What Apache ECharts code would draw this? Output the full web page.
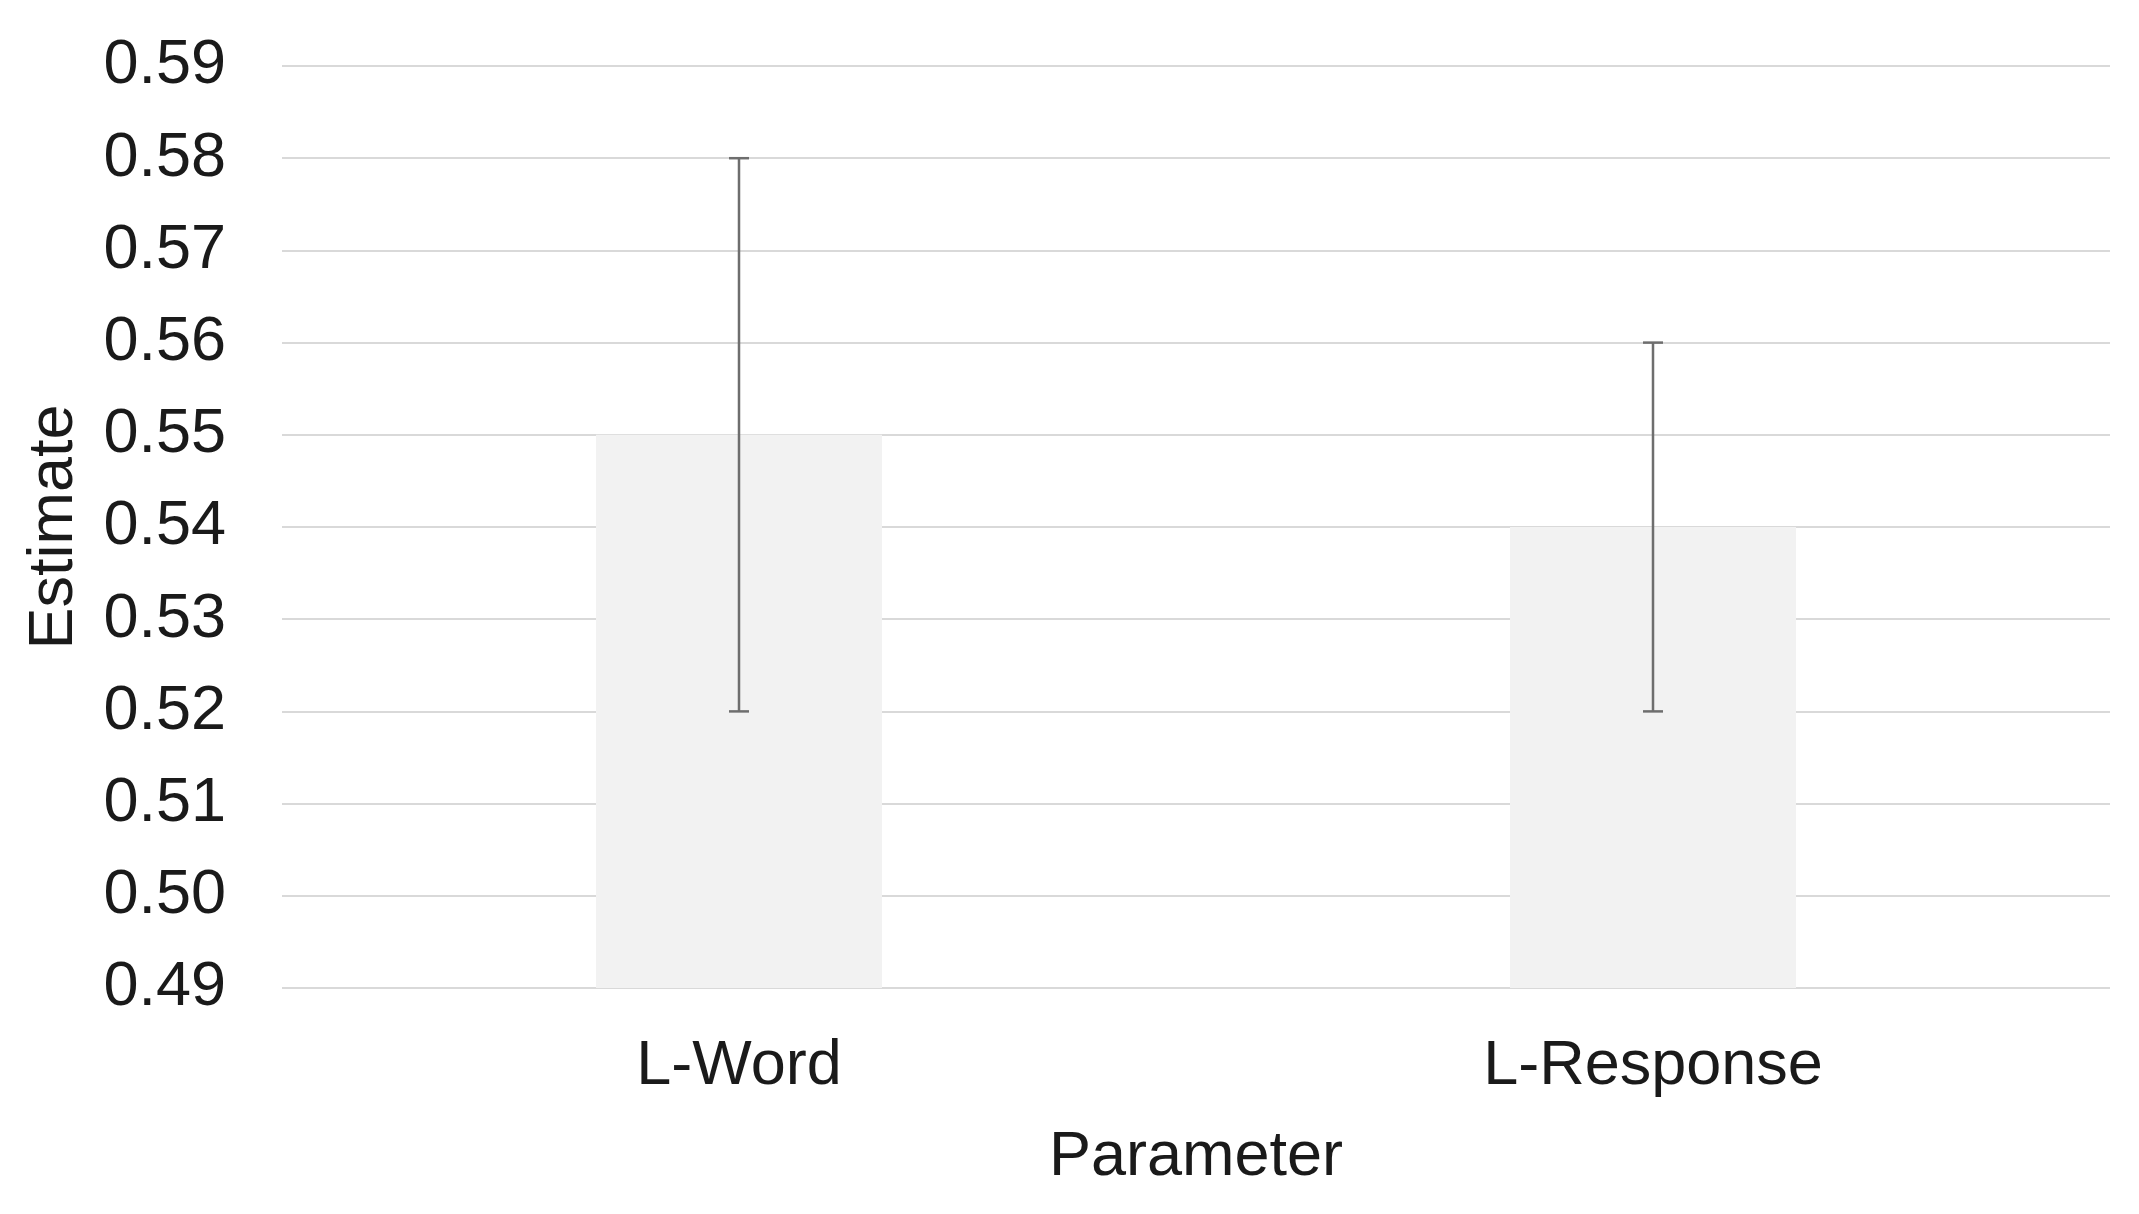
<!DOCTYPE html>
<html><head><meta charset="utf-8">
<script src="https://cdn.jsdelivr.net/npm/echarts@6/dist/echarts.min.js"></script>
<style>html,body{margin:0;padding:0;background:#fff}#c{width:2139px;height:1214px}</style>
</head><body><div id="c"></div>
<script>
const categories = ['L-Word', 'L-Response'];
const estimates = [0.55, 0.54];
const lowerCI = [0.52, 0.52];
const upperCI = [0.58, 0.56];
const yMin = 0.49, yMax = 0.59, yStep = 0.01;

const chart = echarts.init(document.getElementById('c'));
const font = 'Liberation Sans, Arial, sans-serif';
chart.setOption({
  animation: false,
  grid: {left: 282, right: 29, top: 66, bottom: 226, containLabel: false},
  xAxis: {
    type: 'category', data: categories,
    axisLine: {show: false}, axisTick: {show: false},
    axisLabel: {fontSize: 63, color: '#1a1a1a', fontFamily: font, margin: 47},
    name: 'Parameter', nameLocation: 'middle', nameGap: 138,
    nameTextStyle: {fontSize: 63, color: '#1a1a1a', fontFamily: font}
  },
  yAxis: {
    type: 'value', min: yMin, max: yMax, interval: yStep,
    axisLine: {show: false}, axisTick: {show: false},
    axisLabel: {fontSize: 63, color: '#1a1a1a', fontFamily: font, margin: 56,
      formatter: v => v.toFixed(2)},
    splitLine: {lineStyle: {color: '#d9d9d9', width: 2}},
    name: 'Estimate', nameLocation: 'middle', nameGap: 196,
    nameTextStyle: {fontSize: 63, color: '#1a1a1a', fontFamily: font}
  },
  series: [
    {
      type: 'bar', data: estimates, barWidth: 286,
      itemStyle: {color: '#f2f2f2'}, z: 1
    },
    {
      type: 'custom', z: 3,
      data: categories.map((c, i) => [i, lowerCI[i], upperCI[i]]),
      renderItem: function (params, api) {
        const lo = api.coord([api.value(0), api.value(1)]);
        const hi = api.coord([api.value(0), api.value(2)]);
        const half = 10;
        const style = {stroke: '#6e6e6e', lineWidth: 2.5};
        return {type: 'group', children: [
          {type: 'line', shape: {x1: lo[0], y1: lo[1], x2: hi[0], y2: hi[1]}, style},
          {type: 'line', shape: {x1: lo[0] - half, y1: lo[1], x2: lo[0] + half, y2: lo[1]}, style},
          {type: 'line', shape: {x1: hi[0] - half, y1: hi[1], x2: hi[0] + half, y2: hi[1]}, style}
        ]};
      }
    }
  ]
});
</script></body></html>
